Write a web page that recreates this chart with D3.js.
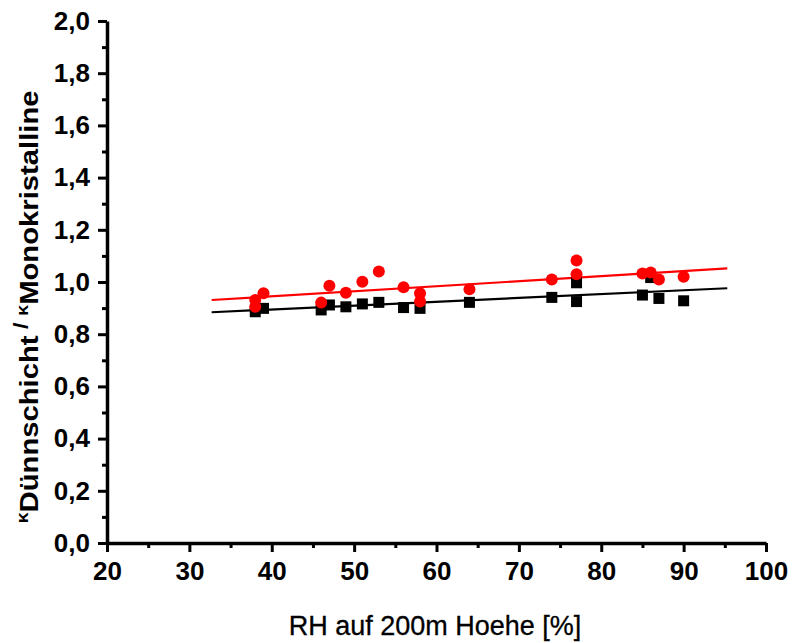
<!DOCTYPE html>
<html>
<head>
<meta charset="utf-8">
<script src="https://cdn.jsdelivr.net/npm/d3@7"></script>
<style>
  body { margin: 0; background: #fff; }
  text { font-family: "Liberation Sans", Arial, sans-serif; }
</style>
</head>
<body>
<div id="chart"></div>
<script>
"use strict";

// data
var rhRed   = [38, 38, 39, 46, 47, 49, 51, 53, 56, 58, 58, 64, 74, 77, 77, 85, 86, 87, 90];
var kRed    = [0.931, 0.905, 0.957, 0.921, 0.986, 0.959, 1.001, 1.04, 0.98, 0.957, 0.925, 0.972, 1.01, 1.082, 1.03, 1.033, 1.036, 1.01, 1.02];
var rhBlack = [38, 39, 46, 47, 49, 51, 53, 56, 58, 64, 74, 77, 77, 85, 86, 87, 90];
var kBlack  = [0.886, 0.899, 0.893, 0.912, 0.905, 0.916, 0.922, 0.902, 0.899, 0.922, 0.941, 0.997, 0.925, 0.95, 1.017, 0.937, 0.928];

// fit lines (end points)
var fitRh    = [32.7, 95.3];
var fitRed   = [0.931, 1.052];
var fitBlack = [0.884, 0.976];

var xTicks = [20, 30, 40, 50, 60, 70, 80, 90, 100];
var yTicks = [0, 0.2, 0.4, 0.6, 0.8, 1.0, 1.2, 1.4, 1.6, 1.8, 2.0];

var width = 795, height = 643;

var svg = d3.select("#chart")
  .append("svg")
    .attr("width", width)
    .attr("height", height);

var x = d3.scaleLinear().domain([20, 100]).range([107, 766]);
var y = d3.scaleLinear().domain([0, 2]).range([543, 21]);

var de = d3.formatLocale({decimal: ",", thousands: ".", grouping: [3], currency: ["", "€"]});
var fmt = de.format(".1f");

// fit lines
var line = d3.line()
  .x(function(d) { return x(d[0]); })
  .y(function(d) { return y(d[1]); });

svg.append("path")
  .datum(d3.zip(fitRh, fitBlack))
  .attr("d", line)
  .attr("fill", "none")
  .attr("stroke", "#000")
  .attr("stroke-width", 2.2);

svg.append("path")
  .datum(d3.zip(fitRh, fitRed))
  .attr("d", line)
  .attr("fill", "none")
  .attr("stroke", "#ff0000")
  .attr("stroke-width", 2.2);

// black squares
var sq = 11;
svg.selectAll(".sq")
  .data(d3.zip(rhBlack, kBlack))
  .enter()
  .append("rect")
    .attr("class", "sq")
    .attr("x", function(d) { return x(d[0]) - sq / 2; })
    .attr("y", function(d) { return y(d[1]) - sq / 2; })
    .attr("width", sq)
    .attr("height", sq)
    .attr("fill", "#000");

// red circles
svg.selectAll(".dot")
  .data(d3.zip(rhRed, kRed))
  .enter()
  .append("circle")
    .attr("class", "dot")
    .attr("cx", function(d) { return x(d[0]); })
    .attr("cy", function(d) { return y(d[1]); })
    .attr("r", 6)
    .attr("fill", "#ff0000");

// axes: minor ticks first, then major
var xMinor = d3.range(25, 100, 10);
var yMinor = d3.range(0.1, 2, 0.2);

svg.append("g")
  .attr("transform", "translate(0," + y(0) + ")")
  .call(d3.axisBottom(x).tickValues(xMinor).tickSize(5).tickFormat(""))
  .call(function(g) { g.select(".domain").remove(); })
  .selectAll("line").attr("stroke-width", 3);

svg.append("g")
  .attr("transform", "translate(" + x(20) + ",0)")
  .call(d3.axisLeft(y).tickValues(yMinor).tickSize(5).tickFormat(""))
  .call(function(g) { g.select(".domain").remove(); })
  .selectAll("line").attr("stroke-width", 3);

var xAxis = svg.append("g")
  .attr("transform", "translate(0," + y(0) + ")")
  .call(d3.axisBottom(x).tickValues(xTicks).tickSize(9).tickSizeOuter(0).tickPadding(10));

var yAxis = svg.append("g")
  .attr("transform", "translate(" + x(20) + ",0)")
  .call(d3.axisLeft(y).tickValues(yTicks).tickSize(9).tickSizeOuter(0).tickPadding(8).tickFormat(fmt));

[xAxis, yAxis].forEach(function(g) {
  g.select(".domain").attr("stroke-width", 3.5);
  g.selectAll("line").attr("stroke-width", 3);
  g.selectAll("text")
    .attr("fill", "#000")
    .style("font-size", "26px")
    .style("font-weight", "bold")
    .style("font-family", "'Liberation Sans', Arial, sans-serif");
});

// x axis title
svg.append("text")
  .attr("x", 435)
  .attr("y", 635)
  .attr("text-anchor", "middle")
  .style("font-size", "27px")
  .style("stroke", "#000")
  .style("stroke-width", 0.3)
  .text("RH auf 200m Hoehe [%]");

// y axis title
var yt = svg.append("text")
  .attr("transform", "translate(38,307) rotate(-90) scale(1.17,1)")
  .attr("text-anchor", "middle")
  .style("font-weight", "bold")
  .style("font-size", "25px");

yt.append("tspan").attr("dy", -10).style("font-size", "17px").text("κ");
yt.append("tspan").attr("dy", 10).text("Dünnschicht");
yt.append("tspan").attr("dy", -10).style("font-size", "20px").text(" / ");
yt.append("tspan").style("font-size", "17px").text("κ");
yt.append("tspan").attr("dy", 10).text("Monokristalline");
</script>
</body>
</html>
